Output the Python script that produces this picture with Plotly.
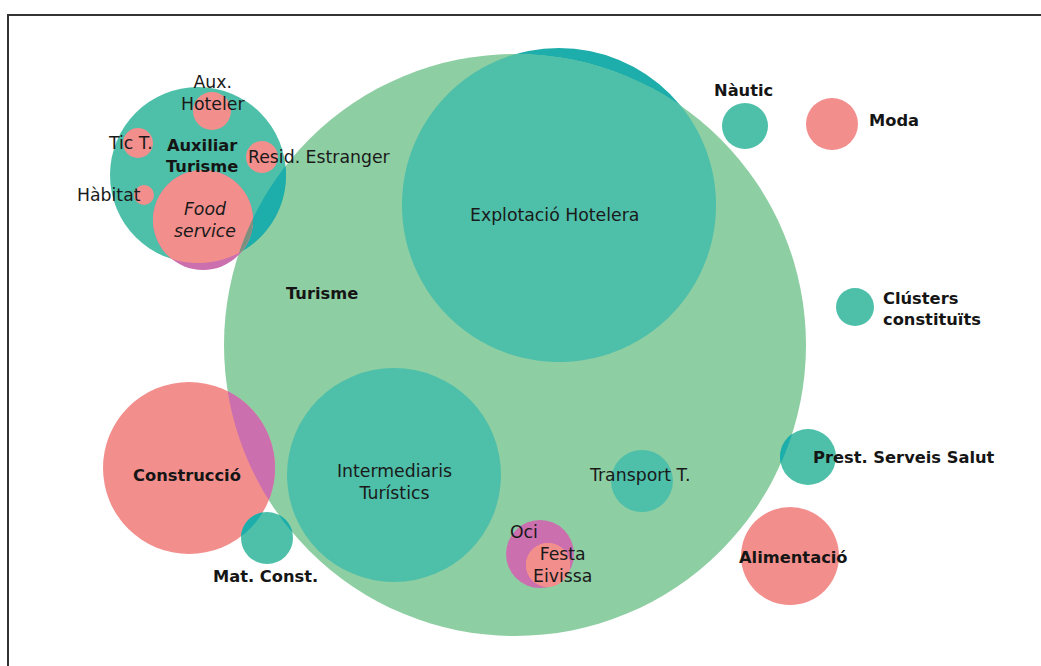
"""
Mapa de clústers de Turisme (Eivissa) amb Plotly
"""

import numpy as np
import plotly.graph_objects as go

# --- dades: cercles (centre x, centre y, radi) en unitats del mapa ---
noms = ["Turisme", "Explotació Hotelera", "Intermediaris Turístics", "Transport T.",
        "Oci", "Festa Eivissa", "Construcció", "Mat. Const.", "Auxiliar Turisme",
        "Food service", "Aux. Hoteler", "Tic T.", "Resid. Estranger", "Hàbitat",
        "Nàutic", "Moda", "Clústers constituïts", "Prest. Serveis Salut", "Alimentació"]
pos_x = [515, 559, 394, 642, 540, 548, 189, 267, 198, 203, 212, 138, 262, 144, 745, 832, 855, 808, 790]
pos_y = [345, 205, 475, 481, 554, 565, 468, 538, 175, 220, 111, 143, 157, 195, 126, 124, 307, 457, 556]
radi = [291, 157, 107, 31, 34, 22, 86, 26, 88, 50, 19, 15, 16, 10, 23, 26, 19, 28, 49]

VERD = "#8ecea3"
TEAL = "#4ebfa9"
TEAL_FOSC = "#1dadaa"
ROSA = "#f28f8d"
LILA = "#cc6faf"
GRIS = "#7d9080"

cercle = {n: (x, y, r) for n, x, y, r in zip(noms, pos_x, pos_y, radi)}


def cami_interseccio(*cs, n=720):
    """Polígon de la intersecció de diversos cercles (convexa)."""
    punts = []
    t = np.linspace(0, 2 * np.pi, n, endpoint=False)
    for i, (cx, cy, r) in enumerate(cs):
        px, py = cx + r * np.cos(t), cy + r * np.sin(t)
        dins = np.ones(n, dtype=bool)
        for j, (ox, oy, orr) in enumerate(cs):
            if j != i:
                dins &= np.hypot(px - ox, py - oy) <= orr + 1e-6
        punts += list(zip(px[dins], py[dins]))
    if not punts:
        return None
    p = np.array(punts)
    mx, my = p[:, 0].mean(), p[:, 1].mean()
    p = p[np.argsort(np.arctan2(p[:, 1] - my, p[:, 0] - mx))]
    return "M " + " L ".join(f"{a:.2f},{b:.2f}" for a, b in p) + " Z"


shapes = []


def afegeix_cercle(nom, color):
    x, y, r = cercle[nom]
    shapes.append(dict(type="circle", xref="x", yref="y", x0=x - r, x1=x + r,
                       y0=y - r, y1=y + r, fillcolor=color, line_width=0, layer="above"))


def afegeix_interseccio(noms_c, color):
    path = cami_interseccio(*[cercle[n] for n in noms_c])
    if path:
        shapes.append(dict(type="path", xref="x", yref="y", path=path,
                           fillcolor=color, line_width=0, layer="above"))


# ordre de dibuix
afegeix_cercle("Explotació Hotelera", TEAL_FOSC)
afegeix_cercle("Turisme", VERD)
afegeix_interseccio(["Explotació Hotelera", "Turisme"], TEAL)
afegeix_cercle("Intermediaris Turístics", TEAL)
afegeix_cercle("Transport T.", TEAL)
afegeix_cercle("Oci", LILA)
afegeix_cercle("Festa Eivissa", ROSA)
afegeix_interseccio(["Festa Eivissa", "Oci"], ROSA)
afegeix_cercle("Construcció", ROSA)
afegeix_interseccio(["Construcció", "Turisme"], LILA)
afegeix_cercle("Mat. Const.", TEAL)
afegeix_interseccio(["Mat. Const.", "Construcció"], TEAL_FOSC)
afegeix_interseccio(["Mat. Const.", "Turisme"], TEAL_FOSC)
afegeix_cercle("Auxiliar Turisme", TEAL)
afegeix_interseccio(["Auxiliar Turisme", "Turisme"], TEAL_FOSC)
afegeix_cercle("Food service", LILA)
afegeix_interseccio(["Food service", "Auxiliar Turisme"], ROSA)
afegeix_interseccio(["Food service", "Auxiliar Turisme", "Turisme"], GRIS)
for n in ["Aux. Hoteler", "Tic T.", "Resid. Estranger", "Hàbitat"]:
    afegeix_cercle(n, ROSA)
afegeix_cercle("Nàutic", TEAL)
afegeix_cercle("Moda", ROSA)
afegeix_cercle("Clústers constituïts", TEAL)
afegeix_cercle("Prest. Serveis Salut", TEAL)
afegeix_interseccio(["Prest. Serveis Salut", "Turisme"], TEAL_FOSC)
afegeix_cercle("Alimentació", ROSA)

# marc
shapes.append(dict(type="rect", xref="x", yref="y", x0=8, x1=1090, y0=15, y1=720,
                   line=dict(color="#333333", width=2), fillcolor="rgba(0,0,0,0)", layer="above"))

# --- etiquetes: text, desplaçament respecte al centre, estil ---
etiquetes = [
    ("Turisme", "Turisme", -193, -52, "bold", "center"),
    ("Explotació Hotelera", "Explotació Hotelera", -5, 10, "normal", "center"),
    ("Intermediaris Turístics", "Intermediaris<br>Turístics", 0, 7, "normal", "center"),
    ("Transport T.", "Transport T.", -2, -6, "normal", "center"),
    ("Oci", "Oci", -16, -22, "normal", "center"),
    ("Festa Eivissa", "Festa<br>Eivissa", 14, 0, "normal", "center"),
    ("Construcció", "Construcció", -2, 7, "bold", "center"),
    ("Mat. Const.", "Mat. Const.", -2, 38, "bold", "center"),
    ("Auxiliar Turisme", "Auxiliar<br>Turisme", 4, -19, "bold", "center"),
    ("Food service", "<i>Food<br>service</i>", 2, 0, "normal", "center"),
    ("Aux. Hoteler", "Aux.<br>Hoteler", 1, -18, "normal", "center"),
    ("Tic T.", "Tic T.", -8, 0, "normal", "center"),
    ("Resid. Estranger", "Resid. Estranger", 57, 0, "normal", "center"),
    ("Hàbitat", "Hàbitat", -35, 0, "normal", "center"),
    ("Nàutic", "Nàutic", -2, -36, "bold", "center"),
    ("Moda", "Moda", 62, -4, "bold", "center"),
    ("Clústers constituïts", "Clústers<br>constituïts", 26, 2, "bold", "left"),
    ("Prest. Serveis Salut", "Prest. Serveis Salut", 96, 0, "bold", "center"),
    ("Alimentació", "Alimentació", 3, 1, "bold", "center"),
]

annotations = []
for nom, text, dx, dy, pes, alinea in etiquetes:
    x, y, r = cercle[nom]
    if pes == "bold":
        font = dict(family="DejaVu Sans", size=16.3, color="#151515", weight="bold")
    else:
        font = dict(family="DejaVu Sans", size=17.3, color="#1a1a1a")
    annotations.append(dict(x=x + dx, y=y + dy, xref="x", yref="y", text=text,
                            showarrow=False, font=font, align=alinea,
                            xanchor="left" if alinea == "left" else "center",
                            yanchor="middle"))

fig = go.Figure()
fig.add_trace(go.Scatter(x=pos_x, y=pos_y, mode="markers", marker=dict(size=1, opacity=0),
                         hoverinfo="skip", showlegend=False))

fig.update_layout(
    width=1041, height=666,
    margin=dict(l=0, r=0, t=0, b=0),
    paper_bgcolor="white", plot_bgcolor="white",
    xaxis=dict(range=[0, 1041], visible=False, fixedrange=True),
    yaxis=dict(range=[666, 0], visible=False, fixedrange=True),
    shapes=shapes,
    annotations=annotations,
    showlegend=False,
)

# sense marge al body perquè la figura ocupi tota la finestra
fig.write_html("out.html", config={"displayModeBar": False},
               post_script="document.body.style.margin='0';document.body.style.overflow='hidden';")
